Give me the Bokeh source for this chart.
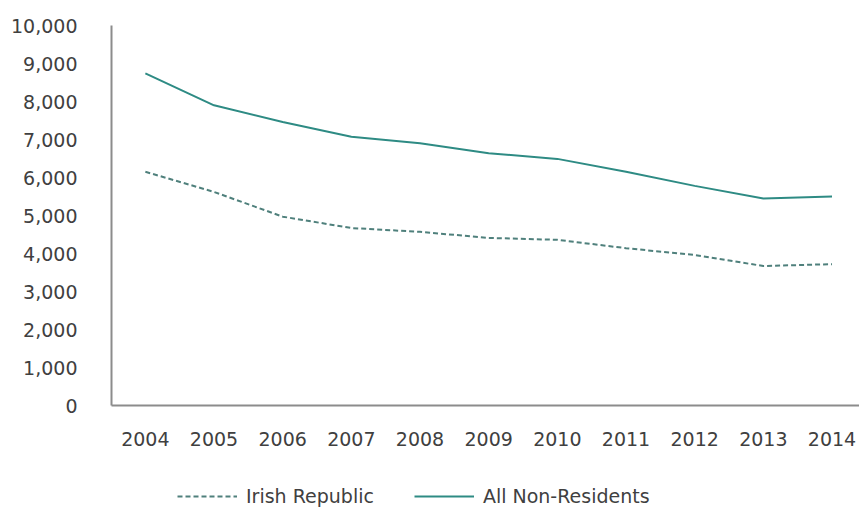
from bokeh.plotting import figure
from bokeh.layouts import column
from bokeh.models import FixedTicker, NumeralTickFormatter, Legend, LegendItem, ColumnDataSource, Range1d
from bokeh.embed import file_html
from bokeh.resources import INLINE

years = [2004, 2005, 2006, 2007, 2008, 2009, 2010, 2011, 2012, 2013, 2014]
irish_republic = [6150, 5620, 4970, 4670, 4570, 4410, 4360, 4140, 3960, 3670, 3720]
all_non_residents = [8740, 7900, 7460, 7070, 6900, 6640, 6490, 6150, 5780, 5450, 5500]
y_ticks = [0, 1000, 2000, 3000, 4000, 5000, 6000, 7000, 8000, 9000, 10000]
series_names = ["Irish Republic", "All Non-Residents"]

FONT = "DejaVu Sans"
TXT = "#404040"
C_IR = "#4f807c"
C_AN = "#2e8b84"
DASH = "5 3"

src = ColumnDataSource(dict(x=years, ir=irish_republic, an=all_non_residents))

p = figure(width=859, height=477, output_backend="svg", toolbar_location=None,
           x_range=(2003.507, 2014.4), y_range=(0, 10000),
           min_border_left=111, min_border_top=25, min_border_right=0, min_border_bottom=72)
p.outline_line_color = None
p.xgrid.visible = False
p.ygrid.visible = False

p.line("x", "ir", source=src, line_color=C_IR, line_width=2, line_dash=DASH)
p.line("x", "an", source=src, line_color=C_AN, line_width=2)

p.xaxis.ticker = FixedTicker(ticks=years)
p.xaxis.formatter = NumeralTickFormatter(format="0")
p.yaxis.ticker = FixedTicker(ticks=y_ticks)
p.yaxis.formatter = NumeralTickFormatter(format="0,0")
for ax in (p.xaxis, p.yaxis):
    ax.axis_line_color = "#8c8c8c"
    ax.axis_line_width = 2
    ax.major_tick_line_color = None
    ax.minor_tick_line_color = None
    ax.major_label_text_font = FONT
    ax.major_label_text_font_size = "19px"
    ax.major_label_text_color = TXT
p.yaxis.major_label_standoff = 28
p.xaxis.major_label_standoff = 20

# legend strip below the chart (its frame is aligned with the chart's frame)
lg = figure(width=859, height=35, output_backend="svg", toolbar_location=None,
            x_axis_type=None, y_axis_type=None, x_range=Range1d(0, 1), y_range=Range1d(0, 1),
            min_border_left=0, min_border_right=0, min_border_top=0, min_border_bottom=0)
lg.outline_line_color = None
lg.xgrid.visible = False
lg.ygrid.visible = False
# proxy renderers lying outside the visible range, used only for the legend samples
e1 = lg.line(x=[-10, -9], y=[-10, -10], line_color=C_IR, line_width=2, line_dash=DASH)
e2 = lg.line(x=[-10, -9], y=[-10, -10], line_color=C_AN, line_width=2)
legend = Legend(items=[LegendItem(label=series_names[0], renderers=[e1]),
                       LegendItem(label=series_names[1], renderers=[e2])],
                location=(66, 5), orientation="horizontal",
                glyph_width=60, glyph_height=20, label_standoff=9, spacing=40,
                padding=0, margin=0, border_line_color=None, background_fill_alpha=0,
                label_text_font=FONT, label_text_font_size="19px", label_text_color=TXT)
lg.add_layout(legend, "center")

layout = column(p, lg, spacing=0)
open("out.html", "w").write(file_html(layout, INLINE))
